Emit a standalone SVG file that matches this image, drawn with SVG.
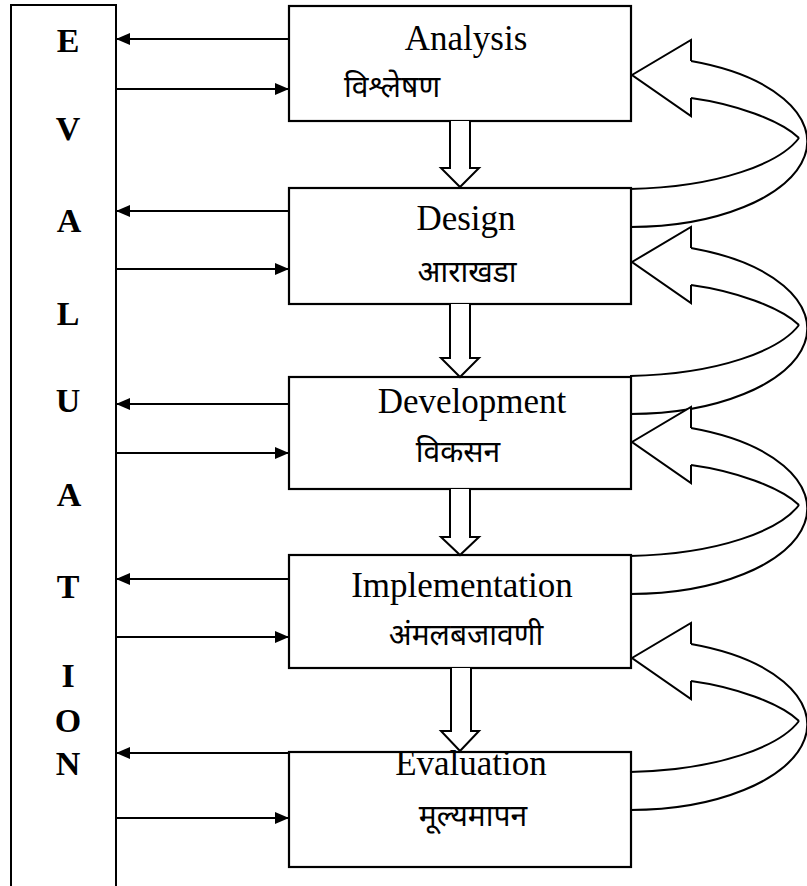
<svg xmlns="http://www.w3.org/2000/svg" width="807" height="886" viewBox="0 0 807 886">
<style>
.box{fill:#fff;stroke:#000;stroke-width:2.2}
.ln{fill:none;stroke:#000;stroke-width:2}
.en{font-family:"Liberation Serif","Times New Roman",serif;font-size:35px;fill:#000;text-anchor:middle}
.hi{font-family:"Noto Sans Devanagari","Noto Serif Devanagari","Lohit Devanagari","FreeSans","Noto Sans",sans-serif;font-size:30px;fill:#000;text-anchor:middle}
.ev{font-family:"Liberation Serif","Times New Roman",serif;font-size:34px;font-weight:bold;fill:#000;text-anchor:middle}
.hollow{fill:#fff;stroke:#000;stroke-width:2}
</style>
<defs>
<marker id="ah" markerUnits="userSpaceOnUse" markerWidth="15" markerHeight="13" refX="14" refY="6" orient="auto">
<path d="M0,0 L14,6 L0,12 z" fill="#000"/>
</marker>
<g id="curve">
<path class="ln" d="M691,-14 A177,85.6 0 0 1 630,152"/>
<path class="ln" d="M691,23 C735,29 780,45 799,63"/>
<path class="ln" d="M799,63 C780,88 720,112 630,114"/>
<path class="hollow" stroke-linejoin="miter" d="M691,-14 L691,-35 L632,0 L691,41 L691,23"/>
</g>
</defs>

<g id="evaluation-column">
<path class="ln" d="M11,886 V5 H116 V886"/>
<text class="ev" x="68" y="52">E</text>
<text class="ev" x="68" y="140">V</text>
<text class="ev" x="69" y="232">A</text>
<text class="ev" x="68" y="325">L</text>
<text class="ev" x="68" y="412">U</text>
<text class="ev" x="69" y="506">A</text>
<text class="ev" x="68" y="598">T</text>
<text class="ev" x="68" y="687">I</text>
<text class="ev" x="68" y="732">O</text>
<text class="ev" x="68" y="775">N</text>
</g>

<g id="analysis">
<rect class="box" x="289" y="6" width="342" height="115"/>
<text class="en" x="466" y="50">Analysis</text>
<text class="hi" x="392" y="97">विश्लेषण</text>
</g>
<g id="design">
<rect class="box" x="289" y="188" width="342" height="116"/>
<text class="en" x="466" y="230">Design</text>
<text class="hi" x="467" y="282">आराखडा</text>
</g>
<g id="development">
<rect class="box" x="289" y="377" width="342" height="112"/>
<text class="en" x="472" y="413">Development</text>
<text class="hi" x="458" y="462">विकसन</text>
</g>
<g id="implementation">
<rect class="box" x="289" y="555" width="342" height="113"/>
<text class="en" x="462" y="597">Implementation</text>
<text class="hi" x="466" y="645">अंमलबजावणी</text>
</g>
<g id="evaluation">
<rect class="box" x="289" y="752" width="342" height="115"/>
<text class="en" x="471" y="775">Evaluation</text>
<text class="hi" x="473" y="826">मूल्यमापन</text>
</g>

<g id="connectors">
<line class="ln" x1="289" y1="39" x2="116" y2="39" marker-end="url(#ah)"/>
<line class="ln" x1="116" y1="89" x2="289" y2="89" marker-end="url(#ah)"/>
<line class="ln" x1="289" y1="211" x2="116" y2="211" marker-end="url(#ah)"/>
<line class="ln" x1="116" y1="269" x2="289" y2="269" marker-end="url(#ah)"/>
<line class="ln" x1="289" y1="404" x2="116" y2="404" marker-end="url(#ah)"/>
<line class="ln" x1="116" y1="453" x2="289" y2="453" marker-end="url(#ah)"/>
<line class="ln" x1="289" y1="579" x2="116" y2="579" marker-end="url(#ah)"/>
<line class="ln" x1="116" y1="637" x2="289" y2="637" marker-end="url(#ah)"/>
<line class="ln" x1="289" y1="753" x2="116" y2="753" marker-end="url(#ah)"/>
<line class="ln" x1="116" y1="818" x2="289" y2="818" marker-end="url(#ah)"/>

<path class="hollow" d="M450,121 V168 H441 L460,187 L479,168 H470 V121"/>
<path class="hollow" d="M450,304 V358 H441 L460,377 L479,358 H470 V304"/>
<path class="hollow" d="M450,489 V537 H441 L460,555 L479,537 H470 V489"/>
<path class="hollow" d="M451,668 V731 H441 L460,751 L479,731 H471 V668"/>

<use href="#curve" transform="translate(0,75)"/>
<use href="#curve" transform="translate(0,262)"/>
<use href="#curve" transform="translate(0,442)"/>
<use href="#curve" transform="translate(0,658)"/>
</g>
</svg>
